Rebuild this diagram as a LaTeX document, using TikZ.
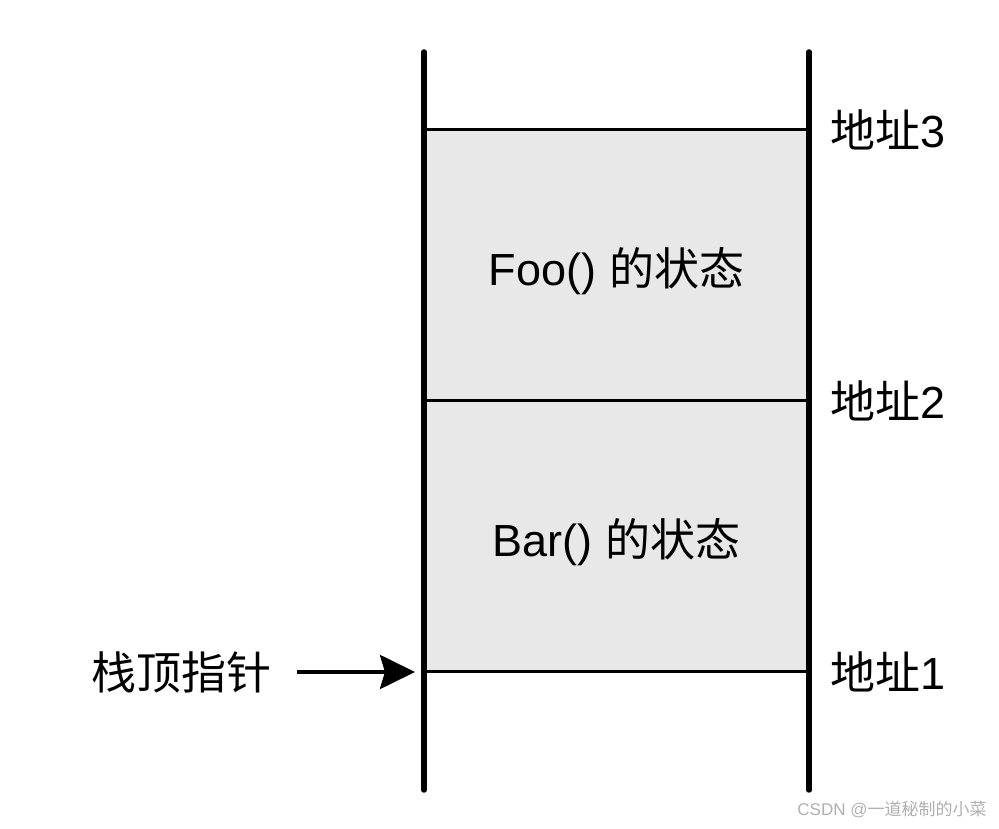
\documentclass[tikz,border=0pt]{standalone}
\usepackage{fontspec}
\setmainfont{Liberation Sans}
\newfontfamily\cjk{Noto Sans CJK SC}
\usepackage{tikz}
\definecolor{stackgray}{RGB}{232,232,232}
\definecolor{markgray}{RGB}{176,176,176}
\usetikzlibrary{arrows.meta, positioning}
\newcommand{\framelabel}[1]{\raisebox{-6pt}[\height][\depth]{#1}}

\begin{document}
\begin{tikzpicture}[x=1pt, y=1pt,
        frame/.style={fill=stackgray, minimum width=385pt, minimum height=271pt,
            inner sep=0pt, outer sep=0pt, font=\fontsize{45}{50}\selectfont},
        addr/.style={inner sep=0pt, font=\fontsize{45}{50}\selectfont},
        rung/.style={line width=3pt},
        wall/.style={line width=5.5pt, line cap=round},
        >={Stealth[length=35pt, width=34pt, inset=5pt]}]
        % Bildbereich
        \useasboundingbox (0,0) rectangle (999,829);
        % Stackrahmen
        \node[frame] (foo) at (616.5,563.5) {\framelabel{Foo() {\cjk 的状态}}};
        \node[frame, anchor=north] (bar) at (foo.south) {\framelabel{Bar() {\cjk 的状态}}};
        \draw[rung] (foo.north west) -- (foo.north east);
        \draw[rung] (foo.south west) -- (foo.south east);
        \draw[rung] (bar.south west) -- (bar.south east);
        % Waende
        \draw[wall] (424,777) -- (424,39);
        \draw[wall] (809,777) -- (809,39);
        % Adressen
        \node[addr, right=21pt of bar.south east] (a1) {{\cjk 地址}1};
        \node[addr, right=21pt of foo.south east] (a2) {{\cjk 地址}2};
        \node[addr, right=21pt of foo.north east] (a3) {{\cjk 地址}3};
        % Stackpointer
        \node[addr, anchor=east] (sp) at (272,157) {\cjk 栈顶指针};
        \draw[->, line width=4pt, shorten <=25pt, shorten >=9pt] (sp.east |- bar.south west) -- (bar.south west);
        % Wasserzeichen
        \node[text=markgray, font=\fontsize{17}{20}\selectfont] (wm) at (892,19) {CSDN @{\cjk 一道秘制的小菜}};
    \end{tikzpicture}
\end{document}
